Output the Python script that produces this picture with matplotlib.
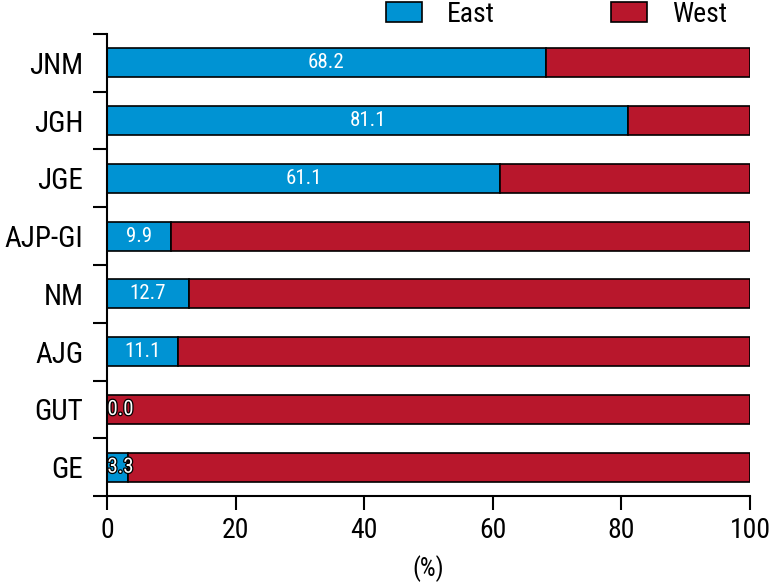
import numpy as np
import matplotlib
matplotlib.use("Agg")
import matplotlib.pyplot as plt
import matplotlib.patheffects as pe

journals = ["GE", "GUT", "AJG", "NM", "AJP-GI", "JGE", "JGH", "JNM"]
east = [3.3, 0.0, 11.1, 12.7, 9.9, 61.1, 81.1, 68.2]
west = [100 - v for v in east]

plt.rcParams["font.family"] = ["Roboto Condensed", "Liberation Sans", "DejaVu Sans"]

blue = "#0093D3"
red = "#B8172C"

fig = plt.figure(figsize=(7.71, 5.85), dpi=100)
ax = fig.add_axes([0.1388, 0.1521, 0.9728 - 0.1388, 0.9419 - 0.1521])

y = np.arange(len(journals))
ax.barh(y, east, height=0.5, color=blue, edgecolor="black", linewidth=1.2, label="East")
ax.barh(y, west, left=east, height=0.5, color=red, edgecolor="black", linewidth=1.2, label="West")

for yi, v in zip(y, east):
    t = ax.text(max(v / 2, 2.1), yi, f"{v:.1f}", color="white", ha="center", va="center", fontsize=15)
    if v < 5:
        t.set_path_effects([pe.withStroke(linewidth=1.8, foreground="black")])

ax.set_xlim(0, 100)
ax.set_ylim(-0.5, len(journals) - 0.5)
ax.set_xticks([0, 20, 40, 60, 80, 100])
ax.tick_params(axis="x", direction="out", length=10, width=1.5, labelsize=20, pad=5)

# category boundaries as major ticks, names on minor ticks
ax.set_yticks(np.arange(-0.5, len(journals), 1.0))
ax.set_yticklabels([])
ax.set_yticks(y, minor=True)
ax.set_yticklabels(journals, minor=True)
ax.tick_params(axis="y", which="major", direction="out", length=10, width=1.5)
ax.tick_params(axis="y", which="minor", length=0, labelsize=21, pad=17)

for s in ["top", "right"]:
    ax.spines[s].set_visible(False)
for s in ["left", "bottom"]:
    ax.spines[s].set_linewidth(1.5)

ax.set_xlabel("(%)", fontsize=18, labelpad=8)

fig.legend(*ax.get_legend_handles_labels(), loc="center", bbox_to_anchor=(556.5 / 771, 1 - 14 / 585),
           ncol=2, frameon=False, fontsize=20, handlelength=1.3, handleheight=0.7,
           columnspacing=4.2, handletextpad=0.9, borderpad=0, borderaxespad=0)

fig.savefig("out.png", dpi=100)
